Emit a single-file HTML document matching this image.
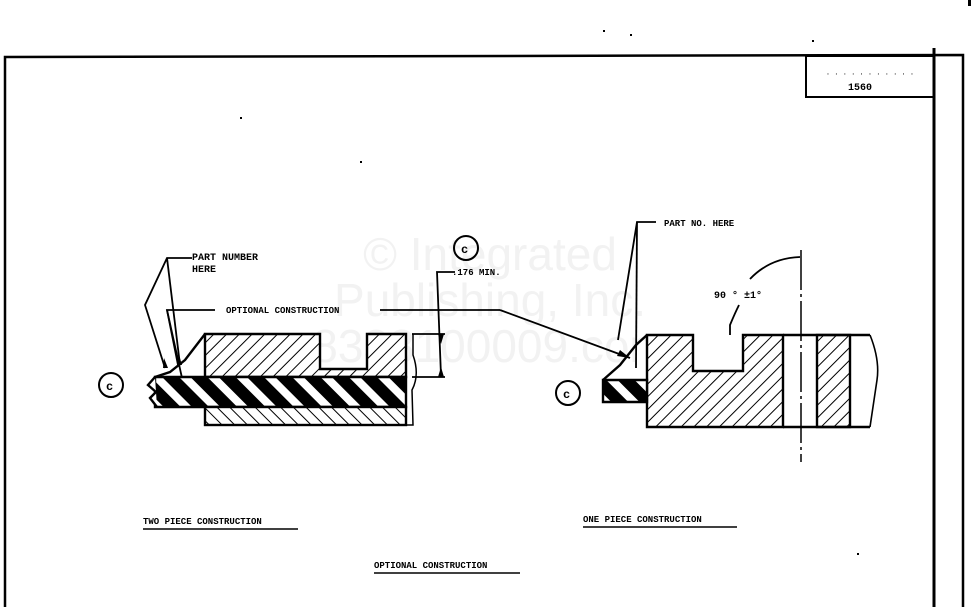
<!DOCTYPE html>
<html><head><meta charset="utf-8"><style>
html,body{margin:0;padding:0;background:#fff;width:978px;height:607px;overflow:hidden}
text{font-family:"Liberation Mono",monospace;font-weight:bold;fill:#000}
</style></head><body>
<svg width="978" height="607" viewBox="0 0 978 607" xmlns="http://www.w3.org/2000/svg">
<defs>
<pattern id="h" width="9" height="9" patternUnits="userSpaceOnUse" patternTransform="rotate(45)">
<rect width="9" height="9" fill="#fff"/><line x1="0" y1="0" x2="0" y2="9" stroke="#000" stroke-width="2"/></pattern>
<pattern id="hb" width="9" height="9" patternUnits="userSpaceOnUse" patternTransform="rotate(-45)">
<rect width="9" height="9" fill="#fff"/><line x1="0" y1="0" x2="0" y2="9" stroke="#000" stroke-width="2"/></pattern>
<pattern id="s" width="20" height="20" patternUnits="userSpaceOnUse" patternTransform="rotate(-45)">
<rect width="20" height="20" fill="#000"/><rect width="8" height="20" fill="#fff"/></pattern>
</defs>
<g font-size="46" text-anchor="middle">
<text x="490" y="270" style="fill:#f2f2f2;font-family:'Liberation Sans',sans-serif;font-weight:normal">© Integrated</text>
<text x="490" y="316" style="fill:#f2f2f2;font-family:'Liberation Sans',sans-serif;font-weight:normal">Publishing, Inc.</text>
<text x="490" y="362" style="fill:#f2f2f2;font-family:'Liberation Sans',sans-serif;font-weight:normal">8338100009.com</text>
</g>
<g stroke="#000" fill="none" stroke-width="2.5">
<polyline points="5,607 5,57 963,55 963,607"/>
<line x1="934" y1="48" x2="934" y2="607" stroke-width="3"/>
<rect x="806" y="56" width="128" height="41" stroke-width="2"/>
</g>
<text x="870" y="76" font-size="7" text-anchor="middle" style="font-weight:normal">· · · ·  · · · · · · ·</text>
<text x="860" y="90" font-size="10" text-anchor="middle">1560</text>

<g stroke="#000" stroke-width="2.4">
<path d="M205,334 H320 V369 H367 V334 H406 V377 H205 Z" fill="url(#h)"/>
<path d="M155,377 H406 V407 H155 Z" fill="url(#s)"/>
<rect x="205" y="407" width="201" height="18" fill="url(#hb)"/>
<path d="M155,377 L170,372 L185,360 L205,334" fill="none"/>
<path d="M413,334 L413,355 Q420,375 412,390 L413,425 L205,425" fill="none" stroke-width="1.5"/>
<path d="M155,377 L148,385 L156,392 L150,398 L157,407" fill="#fff"/>
</g>
<g stroke="#000" stroke-width="1.8" fill="none">
<polyline points="192,258 167,258 145,305 165,368"/>
<line x1="167" y1="258" x2="180" y2="365"/>
<polyline points="215,310 167,310 178,365"/>
<line x1="167" y1="310" x2="182" y2="378"/>
<line x1="380" y1="310" x2="500" y2="310"/>
<line x1="500" y1="310" x2="630" y2="358"/>
<polyline points="455,272 437,272 441,376"/>
<line x1="412" y1="334" x2="445" y2="334"/>
<line x1="412" y1="377" x2="445" y2="377"/>
</g>
<g fill="#000"><polygon points="163,368 168,368 164,358"/><polygon points="177,365 182,365 179,355"/><polygon points="438,334 444,334 441,344"/><polygon points="438,377 444,377 441,367"/><polygon points="630,358 620,350 617,356"/></g>
<text x="192" y="260" font-size="10">PART NUMBER</text>
<text x="192" y="272" font-size="10">HERE</text>
<text x="226" y="313" font-size="9">OPTIONAL CONSTRUCTION</text>
<text x="452" y="275" font-size="9">.176 MIN.</text>
<circle cx="111" cy="385" r="12" fill="none" stroke="#000" stroke-width="2"/><text x="106" y="390" font-size="12">c</text>
<circle cx="466" cy="248" r="12" fill="none" stroke="#000" stroke-width="2"/><text x="461" y="253" font-size="12">c</text>

<g stroke="#000" stroke-width="2.4">
<path d="M647,335 H693 V371 H743 V335 H783 V427 H647 Z" fill="url(#h)"/>
<rect x="817" y="335" width="33" height="92" fill="url(#h)"/>
<line x1="783" y1="335" x2="870" y2="335"/><line x1="783" y1="427" x2="870" y2="427"/>
<path d="M870,335 Q880,360 877,380 L870,427" fill="none" stroke-width="1.6"/>
<path d="M603,380 H647 V402 H603 Z" fill="url(#s)"/>
<path d="M603,380 L620,365 L636,345 L647,335" fill="none"/>
</g>
<line x1="801" y1="250" x2="801" y2="462" stroke="#000" stroke-width="1.5" stroke-dasharray="40,4,3,4"/>
<g stroke="#000" stroke-width="1.8" fill="none">
<polyline points="656,222 637,222 618,340"/>
<line x1="637" y1="222" x2="636" y2="368"/>
<path d="M750,279 Q770,258 800,257"/>
<path d="M730,335 L730,325 Q735,313 739,305"/>
</g>
<text x="664" y="226" font-size="9">PART NO. HERE</text>
<text x="714" y="298" font-size="10">90 ° ±1°</text>
<circle cx="568" cy="393" r="12" fill="none" stroke="#000" stroke-width="2"/><text x="563" y="398" font-size="12">c</text>

<g font-size="9">
<text x="143" y="524">TWO PIECE CONSTRUCTION</text>
<text x="583" y="522">ONE PIECE CONSTRUCTION</text>
<text x="374" y="568">OPTIONAL CONSTRUCTION</text>
</g>
<g stroke="#000" stroke-width="1.5">
<line x1="143" y1="529" x2="298" y2="529"/><line x1="583" y1="527" x2="737" y2="527"/><line x1="374" y1="573" x2="520" y2="573"/>
</g>
<g fill="#000"><rect x="968" y="0" width="3" height="6"/><rect x="603" y="30" width="2" height="2"/><rect x="630" y="34" width="2" height="2"/><rect x="360" y="161" width="2" height="2"/><rect x="240" y="117" width="2" height="2"/><rect x="857" y="553" width="2" height="2"/><rect x="812" y="40" width="2" height="2"/></g>
</svg>
</body></html>
